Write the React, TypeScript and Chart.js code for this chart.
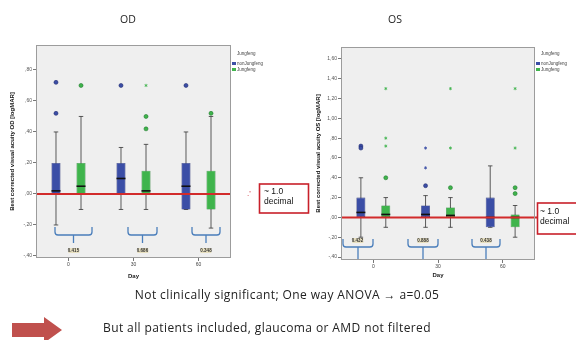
import React, { useEffect, useRef } from "react";
import { Chart, registerables } from "chart.js";

Chart.register(...registerables);

// ---------- data ----------
const days = ["0", "30", "60"];
const groupNames = ["nonJungfeng", "Jungfeng"];
const groupColors = ["#3b4ea6", "#3fb44c"];
const groupEdges = ["#222c70", "#1f7a2c"];

// OD – nonJungfeng
const odNonQ1 = [0.0, 0.0, -0.1];
const odNonQ3 = [0.2, 0.2, 0.2];
const odNonMed = [0.02, 0.1, 0.05];
const odNonLo = [-0.2, -0.1, -0.1];
const odNonHi = [0.4, 0.3, 0.4];
const odNonCircles = [[0.72, 0.52], [0.7], [0.7]];
const odNonStars: number[][] = [[], [], []];
// OD – Jungfeng
const odJQ1 = [0.0, 0.0, -0.1];
const odJQ3 = [0.2, 0.15, 0.15];
const odJMed = [0.05, 0.02, 0.0];
const odJLo = [-0.1, -0.1, -0.22];
const odJHi = [0.5, 0.32, 0.5];
const odJCircles = [[0.7], [0.5, 0.42], [0.52]];
const odJStars = [[], [0.7], []];

// OS – nonJungfeng
const osNonQ1 = [0.0, 0.0, -0.1];
const osNonQ3 = [0.2, 0.12, 0.2];
const osNonMed = [0.05, 0.03, 0.0];
const osNonLo = [-0.2, -0.1, -0.1];
const osNonHi = [0.4, 0.22, 0.52];
const osNonCircles = [[0.72, 0.7], [0.32], []];
const osNonStars = [[], [0.7, 0.5], []];
// OS – Jungfeng
const osJQ1 = [0.0, 0.0, -0.1];
const osJQ3 = [0.12, 0.1, 0.03];
const osJMed = [0.03, 0.02, 0.0];
const osJLo = [-0.1, -0.1, -0.2];
const osJHi = [0.2, 0.2, 0.12];
const osJCircles = [[0.4], [0.3], [0.3, 0.24]];
const osJStars = [[1.3, 0.8, 0.72], [1.3, 0.7], [1.3, 0.7]];

const odRange = [-0.413, 0.961];
const osRange = [-0.43, 1.72];
const refLine = 0.0;

type Group = {
  q1: number[]; q3: number[]; med: number[]; lo: number[]; hi: number[];
  circles: number[][]; stars: number[][]; color: string; edge: string; name: string;
};

const odGroups: Group[] = [
  { q1: odNonQ1, q3: odNonQ3, med: odNonMed, lo: odNonLo, hi: odNonHi, circles: odNonCircles, stars: odNonStars, color: groupColors[0], edge: groupEdges[0], name: groupNames[0] },
  { q1: odJQ1, q3: odJQ3, med: odJMed, lo: odJLo, hi: odJHi, circles: odJCircles, stars: odJStars, color: groupColors[1], edge: groupEdges[1], name: groupNames[1] },
];
const osGroups: Group[] = [
  { q1: osNonQ1, q3: osNonQ3, med: osNonMed, lo: osNonLo, hi: osNonHi, circles: osNonCircles, stars: osNonStars, color: groupColors[0], edge: groupEdges[0], name: groupNames[0] },
  { q1: osJQ1, q3: osJQ3, med: osJMed, lo: osJLo, hi: osJHi, circles: osJCircles, stars: osJStars, color: groupColors[1], edge: groupEdges[1], name: groupNames[1] },
];

const fmt = (v: number) => {
  const s = Math.abs(v).toFixed(2).replace(".", ",");
  const t = s.startsWith("0") ? s.slice(1) : s;
  return (v < -1e-9 ? "-" : "") + t;
};

function makeBoxPlugin(groups: Group[], redExtend: number) {
  return {
    id: "boxExtras",
    beforeDraw(chart: any) {
      const { ctx, chartArea: a } = chart;
      ctx.save();
      ctx.fillStyle = "#efefef";
      ctx.fillRect(a.left, a.top, a.right - a.left, a.bottom - a.top);
      ctx.restore();
    },
    beforeDatasetsDraw(chart: any) {
      const { ctx } = chart;
      const ys = chart.scales.y;
      ctx.save();
      ctx.strokeStyle = "#333";
      ctx.lineWidth = 0.8;
      groups.forEach((g, di) => {
        chart.getDatasetMeta(di).data.forEach((el: any, i: number) => {
          const x = el.x, w = el.width;
          const yLo = ys.getPixelForValue(g.lo[i]);
          const yHi = ys.getPixelForValue(g.hi[i]);
          ctx.beginPath();
          ctx.moveTo(x, yLo); ctx.lineTo(x, yHi);
          ctx.moveTo(x - w * 0.25, yLo); ctx.lineTo(x + w * 0.25, yLo);
          ctx.moveTo(x - w * 0.25, yHi); ctx.lineTo(x + w * 0.25, yHi);
          ctx.stroke();
        });
      });
      ctx.restore();
    },
    afterDatasetsDraw(chart: any) {
      const { ctx, chartArea: a } = chart;
      const ys = chart.scales.y;
      ctx.save();
      groups.forEach((g, di) => {
        chart.getDatasetMeta(di).data.forEach((el: any, i: number) => {
          const x = el.x, w = el.width;
          const ym = ys.getPixelForValue(g.med[i]);
          ctx.strokeStyle = "#111";
          ctx.lineWidth = 1.6;
          ctx.beginPath();
          ctx.moveTo(x - w / 2, ym); ctx.lineTo(x + w / 2, ym);
          ctx.stroke();
          g.circles[i].forEach((v) => {
            const yy = ys.getPixelForValue(v);
            ctx.beginPath();
            ctx.arc(x, yy, 2, 0, Math.PI * 2);
            ctx.fillStyle = g.color;
            ctx.fill();
            ctx.lineWidth = 0.6;
            ctx.strokeStyle = g.edge;
            ctx.stroke();
          });
          g.stars[i].forEach((v) => {
            const yy = ys.getPixelForValue(v);
            ctx.strokeStyle = g.color;
            ctx.lineWidth = 0.8;
            ctx.beginPath();
            for (let k = 0; k < 3; k++) {
              const ang = (Math.PI / 3) * k + Math.PI / 2;
              ctx.moveTo(x - Math.cos(ang) * 1.6, yy - Math.sin(ang) * 1.6);
              ctx.lineTo(x + Math.cos(ang) * 1.6, yy + Math.sin(ang) * 1.6);
            }
            ctx.stroke();
          });
        });
      });
      // reference line
      const yr = ys.getPixelForValue(refLine);
      ctx.strokeStyle = "#d22b2b";
      ctx.lineWidth = 2;
      ctx.beginPath();
      ctx.moveTo(a.left, yr);
      ctx.lineTo(a.right + redExtend, yr);
      ctx.stroke();
      ctx.restore();
    },
    afterDraw(chart: any) {
      const { ctx, chartArea: a } = chart;
      ctx.save();
      ctx.strokeStyle = "#9c9c9c";
      ctx.lineWidth = 1;
      ctx.strokeRect(a.left + 0.5, a.top + 0.5, a.right - a.left - 1, a.bottom - a.top - 1);
      ctx.restore();
    },
  };
}

type BoxChartProps = {
  groups: Group[]; range: number[]; yTitle: string;
  width: number; height: number;
  padLeft: number; padTop: number; padRight: number;
  yWidth: number; xHeight: number; redExtend: number;
};

function BoxChart(p: BoxChartProps) {
  const ref = useRef<HTMLCanvasElement | null>(null);
  useEffect(() => {
    if (!ref.current) return;
    const tickFont = { size: 5, family: "Liberation Sans, Arial, sans-serif" };
    const chart = new Chart(ref.current, {
      type: "bar",
      data: {
        labels: days,
        datasets: p.groups.map((g) => ({
          label: g.name,
          data: g.q1.map((v, j) => [v, g.q3[j]]),
          backgroundColor: g.color,
          borderColor: g.edge,
          borderWidth: 0.6,
          borderSkipped: false,
          categoryPercentage: 0.77,
          barPercentage: 0.36,
        })),
      },
      options: {
        animation: false,
        responsive: false,
        maintainAspectRatio: false,
        devicePixelRatio: 1,
        layout: { padding: { left: p.padLeft, top: p.padTop, right: p.padRight, bottom: 0 } },
        plugins: { legend: { display: false }, tooltip: { enabled: false }, title: { display: false } },
        scales: {
          x: {
            grid: { display: true, drawOnChartArea: false, offset: false, tickLength: 3, color: "#777" },
            border: { display: false },
            ticks: { font: tickFont, color: "#444", padding: 1, maxRotation: 0 },
            title: { display: true, text: "Day", font: { size: 6, weight: "bold", family: "Liberation Sans, Arial, sans-serif" }, color: "#222", padding: { top: 2, bottom: 4 } },
            afterFit: (s: any) => { s.height = p.xHeight; },
          },
          y: {
            min: p.range[0],
            max: p.range[1],
            grid: { display: true, drawOnChartArea: false, tickLength: 3, color: "#777" },
            border: { display: false },
            ticks: { stepSize: 0.2, includeBounds: false, callback: (v: any) => fmt(Number(v)), font: tickFont, color: "#555", padding: 1, autoSkip: false },
            title: { display: true, text: p.yTitle, font: { size: 6, weight: "bold", family: "Liberation Sans, Arial, sans-serif" }, color: "#111", padding: { top: 1, bottom: 1 } },
            afterFit: (s: any) => { s.width = p.yWidth; },
          },
        },
      },
      plugins: [makeBoxPlugin(p.groups, p.redExtend)],
    } as any);
    return () => chart.destroy();
  }, []);
  return <canvas ref={ref} width={p.width} height={p.height} style={{ width: p.width, height: p.height, display: "block" }} />;
}

const abs = (l: number, t: number, extra: React.CSSProperties = {}): React.CSSProperties => ({ position: "absolute", left: l, top: t, ...extra });

function Legend({ left }: { left: number }) {
  const txt: React.CSSProperties = { fontFamily: "Liberation Sans, Arial, sans-serif", fontSize: 4.5, color: "#444", whiteSpace: "nowrap", lineHeight: "5px" };
  return (
    <>
      <div style={abs(left + 5, 51, txt)}>Jungfeng</div>
      <div style={abs(left, 61.5, { width: 4, height: 3.5, background: groupColors[0] })} />
      <div style={abs(left + 5, 61, txt)}>{groupNames[0]}</div>
      <div style={abs(left, 67.5, { width: 4, height: 3.5, background: groupColors[1] })} />
      <div style={abs(left + 5, 67, txt)}>{groupNames[1]}</div>
    </>
  );
}

function Bracket({ l, r, top, h, stemBottom }: { l: number; r: number; top: number; h: number; stemBottom: number }) {
  const s = (l + r) / 2;
  return (
    <path
      d={`M${l},${top} L${l},${h - 3} Q${l},${h} ${l + 3},${h} L${r - 3},${h} Q${r},${h} ${r},${h - 3} L${r},${top} M${s},${h} L${s},${stemBottom}`}
      fill="none" stroke="#4a7ebb" strokeWidth={1.3}
    />
  );
}

export default function App() {
  const small: React.CSSProperties = { fontFamily: "Liberation Sans, Arial, sans-serif", fontSize: 4.5, fontWeight: "bold", color: "#333", background: "#e8e0c0", lineHeight: "5px", whiteSpace: "nowrap", transform: "translateX(-50%)" };
  const boxTxt: React.CSSProperties = { fontFamily: "Liberation Sans, Arial, sans-serif", fontSize: 8.5, color: "#111", lineHeight: "10px", whiteSpace: "nowrap" };
  const slide: React.CSSProperties = { fontFamily: "Open Sans, sans-serif", fontSize: 12, color: "#222", whiteSpace: "nowrap", letterSpacing: "0.4px" };
  return (
    <div style={{ position: "fixed", left: 0, top: 0, width: 576, height: 340, background: "#fff", overflow: "hidden" }}>
      <div style={abs(0, 0)}>
        <BoxChart groups={odGroups} range={odRange} yTitle="Best corrected visual acuity OD [logMAR]"
          width={290} height={284} padLeft={8} padTop={45} padRight={59} yWidth={28} xHeight={26} redExtend={0} />
      </div>
      <div style={abs(290, 0)}>
        <BoxChart groups={osGroups} range={osRange} yTitle="Best corrected visual acuity OS [logMAR]"
          width={286} height={283} padLeft={24} padTop={47} padRight={41} yWidth={27} xHeight={23} redExtend={2} />
      </div>

      <div style={abs(128, 12, { ...slide, fontSize: 10.5, letterSpacing: 0, transform: "translateX(-50%)" })}>OD</div>
      <div style={abs(395, 12, { ...slide, fontSize: 10.5, letterSpacing: 0, transform: "translateX(-50%)" })}>OS</div>

      <Legend left={232} />
      <Legend left={536} />

      <svg width={576} height={340} style={abs(0, 0)}>
        <Bracket l={55} r={92} top={227} h={235} stemBottom={243} />
        <Bracket l={128} r={157} top={227} h={235} stemBottom={243} />
        <Bracket l={192} r={220} top={227} h={235} stemBottom={243} />
        <Bracket l={343} r={373} top={239} h={247} stemBottom={259} />
        <Bracket l={408} r={438} top={239} h={247} stemBottom={259} />
        <Bracket l={472} r={500} top={239} h={247} stemBottom={259} />
        <rect x={259.5} y={184} width={49} height={29} fill="#fff" stroke="#c8202a" strokeWidth={1.6} />
        <rect x={537.5} y={203} width={45} height={31} fill="#fff" stroke="#c8202a" strokeWidth={1.6} />
        <path d="M12,323 L44,323 L44,317 L62,330 L44,343 L44,337 L12,337 Z" fill="#c0504d" />
      </svg>

      <div style={abs(73.5, 247.5, small)}>0.415</div>
      <div style={abs(142.5, 247.5, small)}>0.686</div>
      <div style={abs(206, 247.5, small)}>0.348</div>
      <div style={abs(357.5, 238, small)}>0.432</div>
      <div style={abs(423, 238, small)}>0.888</div>
      <div style={abs(486, 238, small)}>0.438</div>

      <div style={abs(264, 186, boxTxt)}>~ 1.0<br />decimal</div>
      <div style={abs(540, 206, boxTxt)}>~ 1.0<br />decimal</div>
      <div style={abs(247, 189, { fontFamily: "Liberation Sans, Arial, sans-serif", fontSize: 8, color: "#c8202a" })}>.'</div>

      <div style={abs(287, 286, { ...slide, transform: "translateX(-50%)" })}>Not clinically significant; One way ANOVA → a=0.05</div>
      <div style={abs(103, 319, slide)}>But all patients included, glaucoma or AMD not filtered</div>
    </div>
  );
}
